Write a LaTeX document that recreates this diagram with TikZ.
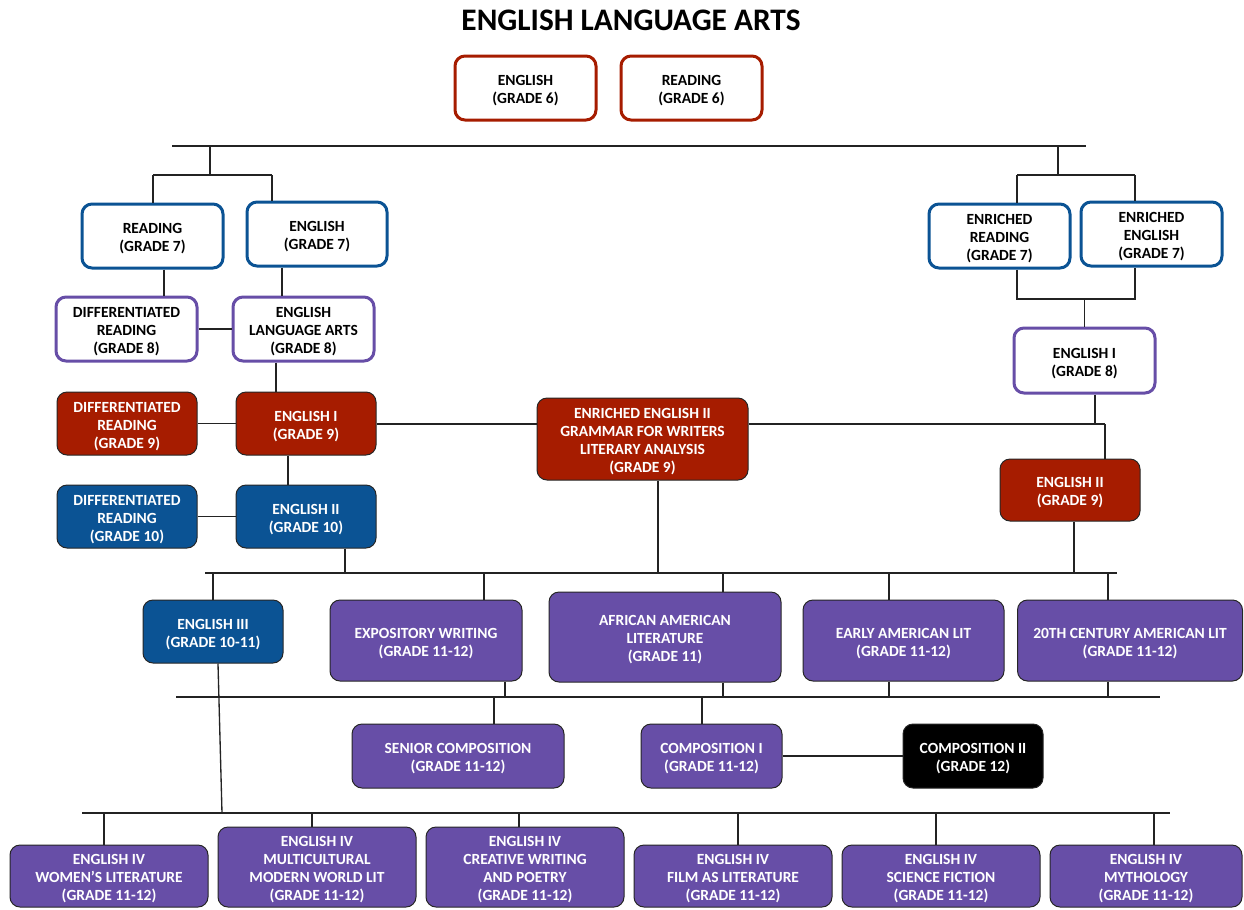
\documentclass[tikz,border=0pt]{standalone}
\usepackage{fontspec}
\setmainfont{Carlito}
\usetikzlibrary{shapes,arrows}
\definecolor{berry}{RGB}{166,28,0}
\definecolor{navy}{RGB}{11,83,148}
\definecolor{grape}{RGB}{103,78,167}
\definecolor{wire}{RGB}{35,35,35}
\newcommand{\capup}{\rule{0pt}{9.2pt}}
\tikzstyle{block} = [rectangle, rounded corners=6pt, align=center, inner sep=0pt,
    font=\fontsize{9.3}{10.8}\selectfont\bfseries]
\tikzstyle{ring} = [block, draw, line width=1.8pt, fill=white, text=black]
\tikzstyle{filled} = [block, draw=black!85, line width=0.6pt, text=white]
\tikzstyle{line} = [draw, wire, line width=0.8pt]
\tikzset{dim/.style 2 args={minimum width=#1*0.6pt, minimum height=#2*0.6pt}}

\begin{document}
\begin{tikzpicture}[x=0.6pt, y=-0.6pt]
  \useasboundingbox (0,0) rectangle (1244,909);
  % Title
  \node [font=\fontsize{18.8}{22}\selectfont\bfseries] (title) at (631,20) {ENGLISH LANGUAGE ARTS};

  % Place nodes
  \node [ring, draw=berry, dim={141}{64}] (eng6) at (525.5,88) {\capup ENGLISH\\(GRADE 6)};
  \node [ring, draw=berry, dim={141}{64}] (read6) at (691.5,88) {\capup READING\\(GRADE 6)};
  \node [ring, draw=navy, dim={141}{64}] (read7) at (152.5,236) {\capup READING\\(GRADE 7)};
  \node [ring, draw=navy, dim={140}{64}] (eng7) at (317,234) {\capup ENGLISH\\(GRADE 7)};
  \node [ring, draw=navy, dim={141}{64}] (enread7) at (999.5,236) {\capup ENRICHED\\READING\\(GRADE 7)};
  \node [ring, draw=navy, dim={141}{64}] (eneng7) at (1151.5,234) {\capup ENRICHED\\ENGLISH\\(GRADE 7)};
  \node [ring, draw=grape, dim={141}{64}] (dread8) at (126.5,329) {\capup DIFFERENTIATED\\READING\\(GRADE 8)};
  \node [ring, draw=grape, dim={141}{64}] (ela8) at (303.5,329) {\capup ENGLISH\\LANGUAGE ARTS\\(GRADE 8)};
  \node [ring, draw=grape, dim={141}{65}] (engI8) at (1084.5,360.5) {\capup ENGLISH I\\(GRADE 8)};

  % Place nodes
  \node [filled, fill=berry, dim={140}{63}] (dread9) at (127,423.5) {\capup DIFFERENTIATED\\READING\\(GRADE 9)};
  \node [filled, fill=berry, dim={140}{63}] (engI9) at (306,423.5) {\capup ENGLISH I\\(GRADE 9)};
  \node [filled, fill=berry, dim={211}{82}] (enrich9) at (642.5,439) {\capup ENRICHED ENGLISH II\\GRAMMAR FOR WRITERS\\LITERARY ANALYSIS\\(GRADE 9)};
  \node [filled, fill=berry, dim={140}{62}] (engII9) at (1070,490) {\capup ENGLISH II\\(GRADE 9)};
  \node [filled, fill=navy, dim={140}{63}] (dread10) at (127,516.5) {\capup DIFFERENTIATED\\READING\\(GRADE 10)};
  \node [filled, fill=navy, dim={140}{63}] (engII10) at (306,516.5) {\capup ENGLISH II\\(GRADE 10)};

  % Place nodes
  \node [filled, fill=navy, dim={140}{63}] (engIII) at (213,631.5) {\capup ENGLISH III\\(GRADE 10-11)};
  \node [filled, fill=grape, dim={192}{81}] (expo) at (426,640.5) {\capup EXPOSITORY WRITING\\(GRADE 11-12)};
  \node [filled, fill=grape, dim={232}{90}] (afam) at (665,637) {\capup AFRICAN AMERICAN\\LITERATURE\\(GRADE 11)};
  \node [filled, fill=grape, dim={201}{81}] (early) at (903.5,640.5) {\capup EARLY AMERICAN LIT\\(GRADE 11-12)};
  \node [filled, fill=grape, dim={225}{81}] (cent) at (1130,640.5) {\capup 20TH CENTURY AMERICAN LIT\\(GRADE 11-12)};
  \node [filled, fill=grape, dim={212}{64}] (senior) at (458,756) {\capup SENIOR COMPOSITION\\(GRADE 11-12)};
  \node [filled, fill=grape, dim={141}{64}] (compI) at (711.5,756) {\capup COMPOSITION I\\(GRADE 11-12)};
  \node [filled, fill=black, dim={140}{64}] (compII) at (973,756) {\capup COMPOSITION II\\(GRADE 12)};

  % Place nodes
  \node [filled, fill=grape, dim={198}{62}] (women) at (109,876) {\capup ENGLISH IV\\WOMEN’S LITERATURE\\(GRADE 11-12)};
  \node [filled, fill=grape, dim={198}{80}] (multi) at (317,867) {\capup ENGLISH IV\\MULTICULTURAL\\MODERN WORLD LIT\\(GRADE 11-12)};
  \node [filled, fill=grape, dim={198}{80}] (creative) at (525,867) {\capup ENGLISH IV\\CREATIVE WRITING\\AND POETRY\\(GRADE 11-12)};
  \node [filled, fill=grape, dim={198}{62}] (film) at (733,876) {\capup ENGLISH IV\\FILM AS LITERATURE\\(GRADE 11-12)};
  \node [filled, fill=grape, dim={198}{62}] (scifi) at (941,876) {\capup ENGLISH IV\\SCIENCE FICTION\\(GRADE 11-12)};
  \node [filled, fill=grape, dim={192}{62}] (myth) at (1146,876) {\capup ENGLISH IV\\MYTHOLOGY\\(GRADE 11-12)};

  % Bus coordinates
  \coordinate (busT-l) at (172,146);
  \coordinate (busT-r) at (1086,146);
  \coordinate (brL-l) at (153,175);
  \coordinate (brL-r) at (272,175);
  \coordinate (brR-l) at (1017,175);
  \coordinate (brR-r) at (1135,175);
  \coordinate (joinR-l) at (1017,299);
  \coordinate (joinR-r) at (1135,299);
  \coordinate (tieR) at (1105,424);
  \coordinate (busM-l) at (205,573);
  \coordinate (busM-r) at (1117,573);
  \coordinate (busL-l) at (176,697);
  \coordinate (busL-r) at (1160,697);
  \coordinate (busB-l) at (82,813);
  \coordinate (busB-r) at (1170,813);

  % Draw edges
  \path [line] (busT-l) -- (busT-r);
  \path [line] (busT-l -| 210,0) -- (brL-l -| 210,0);
  \path [line] (busT-l -| 1058,0) -- (brR-l -| 1058,0);
  \path [line] (brL-l) -- (brL-r);
  \path [line] (brR-l) -- (brR-r);
  \path [line] (brL-l) -- (brL-l |- read7.north);
  \path [line] (brL-r) -- (brL-r |- eng7.north);
  \path [line] (brR-l) -- (brR-l |- enread7.north);
  \path [line] (brR-r) -- (brR-r |- eneng7.north);
  \path [line] (enread7.south -| joinR-l) -- (joinR-l) -- (joinR-r) -- (eneng7.south -| joinR-r);
  \path [line] (engI8.north |- joinR-l) -- (engI8.north);
  \path [line] (read7.south -| 164,0) -- (dread8.north -| 164,0);
  \path [line] (eng7.south -| 282,0) -- (ela8.north -| 282,0);
  \path [line] (dread8) -- (ela8);
  \path [line] (ela8.south -| 276,0) -- (engI9.north -| 276,0);

  % Draw edges
  \path [line] (dread9) -- (engI9);
  \path [line] (engI9.east |- tieR) -- (enrich9.west |- tieR);
  \path [line] (enrich9.east |- tieR) -- (tieR);
  \path [line] (engI8.south -| 1095,0) -- (tieR -| 1095,0);
  \path [line] (tieR) -- (engII9.north -| tieR);
  \path [line] (engI9.south -| 288,0) -- (engII10.north -| 288,0);
  \path [line] (dread10) -- (engII10);

  % Draw edges
  \path [line] (busM-l) -- (busM-r);
  \path [line] (engII10.south -| 345,0) -- (busM-l -| 345,0);
  \path [line] (enrich9.south -| 658,0) -- (busM-l -| 658,0);
  \path [line] (engII9.south -| 1074,0) -- (busM-l -| 1074,0);
  \path [line] (busM-l -| engIII.north) -- (engIII.north);
  \path [line] (busM-l -| 484,0) -- (expo.north -| 484,0);
  \path [line] (busM-l -| 723,0) -- (afam.north -| 723,0);
  \path [line] (busM-l -| 889,0) -- (early.north -| 889,0);
  \path [line] (busM-l -| 1108,0) -- (cent.north -| 1108,0);

  % Draw edges
  \path [line] (busL-l) -- (busL-r);
  \path [line] (expo.south -| 505,0) -- (busL-l -| 505,0);
  \path [line] (afam.south -| 723,0) -- (busL-l -| 723,0);
  \path [line] (early.south -| 889,0) -- (busL-l -| 889,0);
  \path [line] (cent.south -| 1108,0) -- (busL-l -| 1108,0);
  \path [line] (busL-l -| 494,0) -- (senior.north -| 494,0);
  \path [line] (busL-l -| 702,0) -- (compI.north -| 702,0);
  \path [line] (compI) -- (compII);

  % Draw edges
  \path [line] (busB-l) -- (busB-r);
  \path [line] (engIII.south -| 218,0) -- (busB-l -| 222,0);
  \path [line] (busB-l -| 104,0) -- (women.north -| 104,0);
  \path [line] (busB-l -| 312,0) -- (multi.north -| 312,0);
  \path [line] (busB-l -| 519,0) -- (creative.north -| 519,0);
  \path [line] (busB-l -| 738,0) -- (film.north -| 738,0);
  \path [line] (busB-l -| 936,0) -- (scifi.north -| 936,0);
  \path [line] (busB-l -| 1154,0) -- (myth.north -| 1154,0);
\end{tikzpicture}
\end{document}
